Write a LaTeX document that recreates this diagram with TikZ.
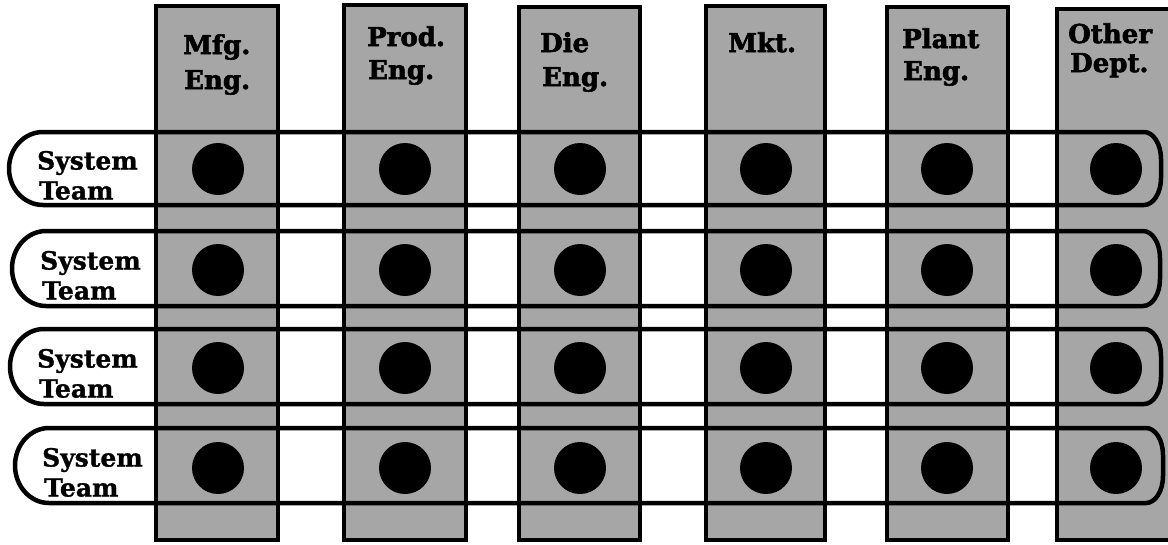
\documentclass[tikz,border=0pt]{standalone}
\usepackage{fontspec}
\setmainfont{DejaVu Serif}
\newfontfamily\hdrfont[BoldFeatures={FakeBold=2.2}]{DejaVu Serif}
\newfontfamily\teamfont[BoldFeatures={FakeBold=1.2}]{DejaVu Serif}
\definecolor{halftone}{gray}{0.65}
% band path: #1 left, #2 top, #3 right, #4 bottom (path coordinates)
\newcommand\bandpath[4]{({#1+34},#2) -- ({#3-17},#2)
  .. controls ({#3-7.6},#2) and (#3,{#2+12.1}) .. (#3,{#2+27})
  -- (#3,{#4-27})
  .. controls (#3,{#4-12.1}) and ({#3-7.6},#4) .. ({#3-17},#4)
  -- ({#1+34},#4)
  .. controls ({#1+34-18.78},#4) and (#1,{(#2+#4)/2+0.5523*(#4-#2)/2}) .. (#1,{(#2+#4)/2})
  .. controls (#1,{(#2+#4)/2-0.5523*(#4-#2)/2}) and ({#1+34-18.78},#2) .. ({#1+34},#2) -- cycle}
\tikzset{
  colbox/.style={fill=halftone, draw=black, line width=4pt},
  band/.style={draw=black, line width=4.5pt, line join=round},
  bandfill/.style={fill=white},
  dot/.style={fill=black},
  hdr/.style={font=\hdrfont\bfseries\fontsize{26}{30}\selectfont, anchor=base west, inner sep=0pt},
  team/.style={font=\teamfont\bfseries\fontsize{25}{30}\selectfont, anchor=base west, inner sep=0pt},
}
\begin{document}
\begin{tikzpicture}[x=1pt,y=-1pt]
\useasboundingbox (0,0) rectangle (1168,544);
\clip (0,0) rectangle (1168,544);
\fill[white] (0,0) rectangle (1168,544);
% row bands (white interior)
\foreach \L/\T/\R/\B in {9/132/1161/205, 12/231/1160/306, 10/329/1161/404, 15/428/1163/503}
  { \path[bandfill] \bandpath{\L}{\T}{\R}{\B}; }
% department columns
\foreach \a/\b/\t in {154/280/4, 342/468/3, 517/642/5, 704/827/4, 885/1010/5, 1055/1182/7}
  { \draw[colbox] ({\a+2},{\t+2}) rectangle ({\b-2},540); }
% row band outlines on top
\foreach \L/\T/\R/\B in {9/132/1161/205, 12/231/1160/306, 10/329/1161/404, 15/428/1163/503}
  { \path[band] \bandpath{\L}{\T}{\R}{\B}; }
% dots
\foreach \cx in {218, 405, 580, 766, 947, 1116}
  \foreach \cy in {169, 270, 368, 468}
    { \fill[dot] (\cx,\cy) circle[radius=26pt]; }
% headers
\node[hdr] (h1a) at (183,54) {Mfg.};
\node[hdr] (h1b) at (184,89) {Eng.};
\node[hdr] (h2a) at (367,46) {Prod.};
\node[hdr] (h2b) at (368,79) {Eng.};
\node[hdr] (h3a) at (540,52) {Die};
\node[hdr] (h3b) at (542,86) {Eng.};
\node[hdr] (h4a) at (728,52) {Mkt.};
\node[hdr] (h5a) at (902,48) {Plant};
\node[hdr] (h5b) at (903,80) {Eng.};
\node[hdr] (h6a) at (1068,43) {Other};
\node[hdr] (h6b) at (1070,72) {Dept.};
% system team labels
\foreach \i/\x/\c in {1/37/168.5, 2/40/268.5, 3/37/366.5, 4/42/465.5}
{
  \node[team] (s\i) at (\x,{\c+1}) {System};
  \node[team] (t\i) at ({\x+2},{\c+31}) {Team};
}
\end{tikzpicture}
\end{document}
